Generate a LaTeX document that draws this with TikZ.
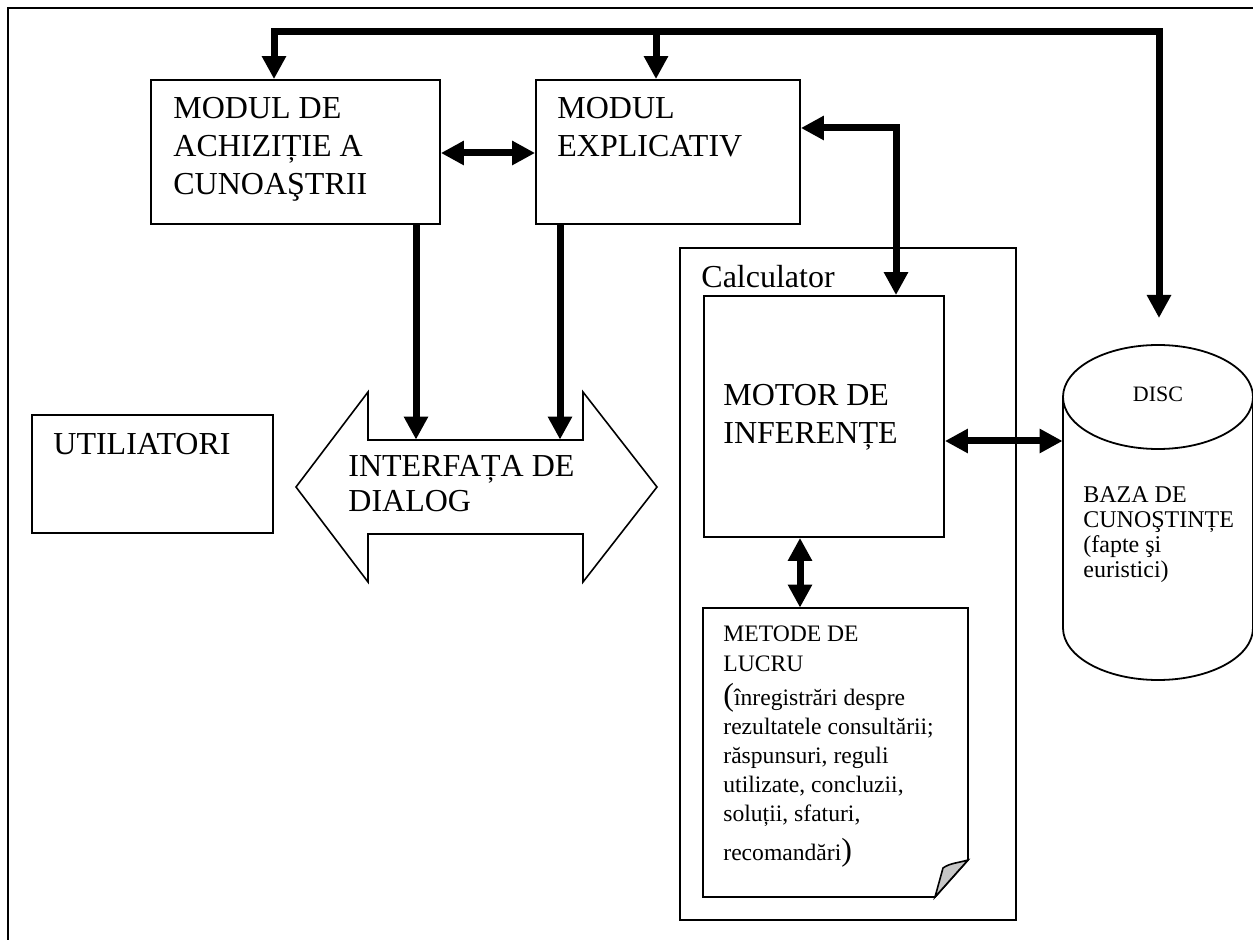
\documentclass[tikz,border=0pt]{standalone}
\usepackage{fontspec}
\setmainfont{Liberation Serif}
\usetikzlibrary{arrows.meta,fit}

\newcommand{\stack}[1]{\begin{tabular}[t]{@{}l@{}}#1\end{tabular}}

\begin{document}
\begin{tikzpicture}[x=0.5pt,y=-0.5pt,
  >={Triangle[length=11.5pt,width=11.5pt]},
  box/.style={draw,line width=0.9pt,inner sep=0pt},
  area/.style={inner sep=0pt},
  link/.style={line width=3.5pt,line join=miter},
  frameline/.style={line width=1.15pt},
  lbl/.style={anchor=base west,inner sep=0pt},
  bigtxt/.style={font=\fontsize{16}{19}\selectfont},
  smalltxt/.style={font=\fontsize{12}{12.5}\selectfont},
  notetxt/.style={font=\fontsize{11.8}{14.5}\selectfont}]

\clip (0,0) rectangle (1253,940);

% outer frame (top and left sides)
\coordinate (frTL) at (8,8);
\coordinate (frTR) at (1253,8);
\coordinate (frBL) at (8,940);
\draw[frameline] (frTR) -- (frTL) -- (frBL);

% upper modules
\node[box,fit={(151,80) (440,224)}] (acq) {};
\node[lbl,bigtxt] (acqtxt) at (173,119) {\stack{MODUL DE\\ACHIZIȚIE A\\CUNOAŞTRII}};
\node[box,fit={(536,80) (800,224)}] (expl) {};
\node[lbl,bigtxt] (expltxt) at (557,119) {\stack{MODUL\\EXPLICATIV}};

% users
\node[box,fit={(32,415) (273,533)}] (users) {};
\node[lbl,bigtxt] (userstxt) at (53,455) {UTILIATORI};

% dialog interface (double block arrow)
\draw[line width=0.8pt] (296,487) -- (368,392) -- (368,440) -- (583,440) -- (583,392)
  -- (657,487) -- (583,582) -- (583,534) -- (368,534) -- (368,582) -- cycle;
\node[area,fit={(368,440) (583,534)}] (iface) {};
\node[lbl,font=\fontsize{16}{17.5}\selectfont] (ifacetxt) at (348,477) {\stack{INTERFAȚA DE\\DIALOG}};

% computer
\node[box,fit={(680,248) (1016,920)}] (calc) {};
\node[lbl,bigtxt] (calctxt) at (701,288) {Calculator};
\node[box,fit={(704,296) (944,537)}] (motor) {};
\node[lbl,bigtxt] (motortxt) at (723,406) {\stack{MOTOR DE\\INFERENȚE}};

% working methods (document with folded corner)
\node[area,fit={(703,608) (968,897)}] (methods) {};
\draw[line width=0.9pt] (703,608) -- (968,608) -- (968,860) -- (935,897) -- (703,897) -- cycle;
\draw[line width=0.8pt,fill=black!22] (968,860) .. controls (958,863) and (950,863) .. (943,868) -- (935,897) -- cycle;
\node[lbl,notetxt] (methodstxt) at (723,642) {\stack{METODE DE\\LUCRU\\[2pt]{\fontsize{16}{16}\selectfont(}înregistrări despre\\rezultatele consultării;\\răspunsuri, reguli\\utilizate, concluzii,\\soluții, sfaturi,\\[4pt]recomandări{\fontsize{16}{16}\selectfont)}}};

% knowledge base disc
\node[area,fit={(1063,345) (1253,680)}] (disc) {};
\draw[line width=0.9pt] (1158,397) ellipse[x radius=95,y radius=52];
\draw[line width=0.9pt] (1063,397) -- (1063,628) arc[start angle=180,end angle=0,x radius=95,y radius=52] -- (1253,397);
\node[inner sep=0pt,anchor=base,font=\fontsize{11}{12}\selectfont] (disctxt) at (1158,402) {DISC};
\node[lbl,smalltxt] (kbtxt) at (1083,503) {\stack{BAZA DE\\CUNOŞTINȚE\\(fapte şi\\euristici)}};

% connectors
\coordinate (busL) at (274,32);
\coordinate (busM) at (656,32);
\coordinate (busR) at (1159,32);
\coordinate (busEnd) at (1159,318);
\draw[link,<->] (acq.north -| busL) -- (busL) -- (busR) -- (busEnd);
\draw[link,->] (busM) -- (expl.north -| busM);

\coordinate (midY) at (0,153);
\draw[link,<->] (acq.east |- midY) -- (expl.west |- midY);

\coordinate (exY) at (0,128);
\coordinate (exBend) at (896,128);
\draw[link,<->] (expl.east |- exY) -- (exBend) -- (motor.north -| exBend);

\coordinate (dlgA) at (416,0);
\coordinate (dlgB) at (560,0);
\draw[link,->] (acq.south -| dlgA) -- (iface.north -| dlgA);
\draw[link,->] (expl.south -| dlgB) -- (iface.north -| dlgB);

\coordinate (kbY) at (0,441);
\draw[link,<->] (motor.east |- kbY) -- (disc.west |- kbY);

\coordinate (mmX) at (800,0);
\draw[link,<->] (motor.south -| mmX) -- (methods.north -| mmX);

\end{tikzpicture}
\end{document}
